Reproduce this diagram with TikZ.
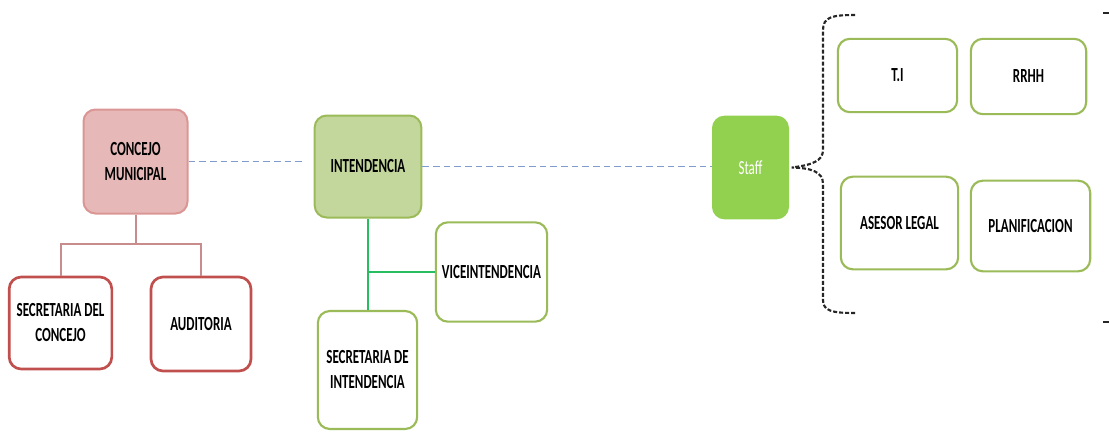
\documentclass[tikz,border=0pt]{standalone}
\usepackage{fontspec}
\setmainfont{Carlito}[FakeStretch=0.65]
\tikzset{every picture/.style={line width=0.75pt}}
\definecolor{pinkfill}{RGB}{230,185,184}
\definecolor{pinkline}{RGB}{217,150,148}
\definecolor{redline}{RGB}{192,80,77}
\definecolor{redconn}{RGB}{200,140,140}
\definecolor{olivefill}{RGB}{195,214,155}
\definecolor{oliveline}{RGB}{155,187,89}
\definecolor{greenconn}{RGB}{40,190,95}
\definecolor{stafffill}{RGB}{146,208,80}
\definecolor{dashblue}{RGB}{125,158,205}
\tikzset{
  orgbox/.style={rounded corners=9pt, align=center, inner sep=0pt,
    font=\bfseries\fontsize{15}{18.75}\selectfont},
  redbox/.style={orgbox, draw=redline, line width=2pt, fill=white},
  greenbox/.style={orgbox, draw=oliveline, line width=1.6pt, fill=white},
  dashconn/.style={dashblue, line width=1.1pt, dash pattern=on 5pt off 3pt},
}

\begin{document}
\begin{tikzpicture}[x=0.75pt,y=0.75pt,yscale=-1,xscale=1]
\useasboundingbox (0,0) rectangle (1109,432);

%Shape: Rounded Rect
\node (concejo) [orgbox, draw=pinkline, line width=1.5pt, fill=pinkfill, minimum width=78pt, minimum height=78pt] at (135.5,161.5) {CONCEJO\\MUNICIPAL};
%Shape: Rounded Rect
\node (intendencia) [orgbox, draw=oliveline, line width=1.5pt, fill=olivefill, minimum width=80pt, minimum height=76.5pt] at (368,166.5) {INTENDENCIA};
%Shape: Rounded Rect
\node (staff) [orgbox, draw=stafffill, fill=stafffill, text=white, font=\fontsize{15}{18.75}\selectfont, minimum width=57pt, minimum height=77pt] at (750.5,167.5) {Staff};

%Shape: Rounded Rect
\node (secconcejo) [redbox, minimum width=77pt, minimum height=69pt] at (60.5,323) {SECRETARIA DEL\\CONCEJO};
%Shape: Rounded Rect
\node (auditoria) [redbox, minimum width=75pt, minimum height=70.5pt] at (201,324) {AUDITORIA};

%Shape: Rounded Rect
\node (vice) [greenbox, minimum width=83.5pt, minimum height=74.5pt] at (491.5,272) {VICEINTENDENCIA};
%Shape: Rounded Rect
\node (secint) [greenbox, minimum width=74.5pt, minimum height=88.5pt] at (367.5,370) {SECRETARIA DE\\INTENDENCIA};

%Shape: Rounded Rect
\node (ti) [greenbox, minimum width=89.5pt, minimum height=55pt] at (897.5,75.5) {T.I};
%Shape: Rounded Rect
\node (rrhh) [greenbox, minimum width=86.5pt, minimum height=56.5pt] at (1028.5,76.5) {RRHH};
%Shape: Rounded Rect
\node (asesor) [greenbox, minimum width=88pt, minimum height=69.5pt] at (899.5,223) {ASESOR LEGAL};
%Shape: Rounded Rect
\node (planif) [greenbox, minimum width=89.5pt, minimum height=68pt] at (1030.5,226) {PLANIFICACION};

%Straight Lines
\draw [dashconn, shorten >=9pt] (concejo.east) -- (concejo.east -| intendencia.west) ;
%Straight Lines
\draw [dashconn] (intendencia.east) -- (intendencia.east -| staff.west) ;

%Straight Lines
\draw [redconn, line width=1.5pt] (concejo.south) -- ++(0,29) -| (secconcejo.north) ;
\draw [redconn, line width=1.5pt] (concejo.south) -- ++(0,29) -| (auditoria.north) ;

%Straight Lines
\draw [greenconn, line width=1.5pt] (intendencia.south) -- (intendencia.south |- secint.north) ;
\draw [greenconn, line width=1.5pt] (vice.west) -- (vice.west -| intendencia.south) ;

%Curve Lines
\draw [black!85, line width=1.6pt, dash pattern=on 3pt off 1.5pt] (855,15) .. controls (832,15) and (823,17) .. (823,30) -- (823,150) .. controls (823,161) and (812,165) .. ([xshift=2pt]staff.east) .. controls (812,168) and (823,172) .. (823,184) -- (823,300) .. controls (823,311) and (832,313) .. (855,313) ;

%Straight Lines
\draw [black!85, line width=1.6pt] (1103,13) -- (1109,13) ;
\draw [black!85, line width=1.6pt] (1103,322) -- (1109,322) ;

\end{tikzpicture}
\end{document}
